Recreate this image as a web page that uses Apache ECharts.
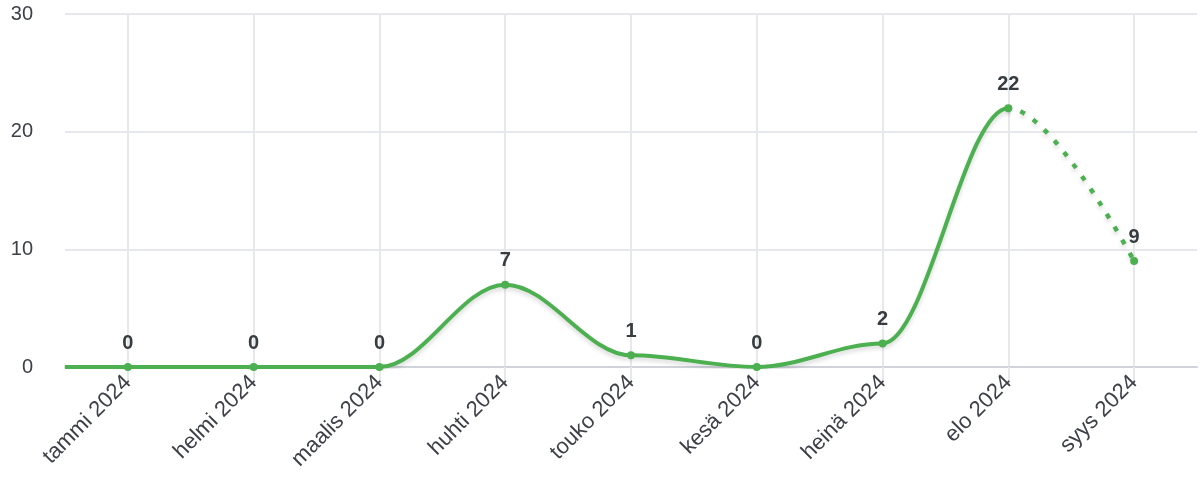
<!DOCTYPE html>
<html>
<head>
<meta charset="utf-8">
<script src="https://cdn.jsdelivr.net/npm/echarts@6/dist/echarts.min.js"></script>
<style>
  html, body { margin: 0; padding: 0; background: #fff; }
  #main { width: 1200px; height: 487px; }
</style>
</head>
<body>
<div id="main"></div>
<script>
// kuukaudet ja arvot
var months = ['tammi 2024', 'helmi 2024', 'maalis 2024', 'huhti 2024', 'touko 2024',
  'kesä 2024', 'heinä 2024', 'elo 2024', 'syys 2024'];
var values = [0, 0, 0, 7, 1, 0, 2, 22, 9];
var lastActual = 7; // elo 2024 -> syys on ennuste (pisteviiva)
var yTicks = { min: 0, max: 30, interval: 10 };

var green = '#4CAF50';
var textColor = '#373d3f';
var gridColor = '#e6e8ec';

// pisteet arvoakselille [indeksi, arvo]
var points = values.map(function (v, i) { return [i, v]; });
var leadIn = [[-0.5, 0], [0, 0]];

var W = 1200, left = 65, right = 3;
var step = (W - left - right) / months.length;
var splitX = left + (lastActual + 0.5) * step;

var lineShadow = { shadowColor: 'rgba(0,0,0,0.15)', shadowBlur: 4, shadowOffsetY: 3 };
var smooth = 0.35;

var chart = echarts.init(document.getElementById('main'));
var option = {
  animation: false,
  textStyle: { fontFamily: 'Liberation Sans, Arial, sans-serif' },
  grid: [
    { left: left, right: right, top: 14, bottom: 120 },
    { left: left, right: W - splitX, top: 14, bottom: 120 },
    { left: splitX, right: right, top: 14, bottom: 120 }
  ],
  xAxis: [
    {
      type: 'category',
      gridIndex: 0,
      data: months,
      boundaryGap: true,
      axisLine: { lineStyle: { color: '#d0d3da', width: 2 } },
      axisTick: { show: true, alignWithLabel: true, length: 18, lineStyle: { color: gridColor, width: 2 } },
      splitLine: { show: true, alignWithLabel: true, lineStyle: { color: gridColor, width: 2 } },
      axisLabel: { rotate: 45, color: '#3d4047', fontSize: 22, margin: 12, interval: 0 }
    },
    { type: 'value', gridIndex: 0, min: -0.5, max: months.length - 0.5, show: false },
    { type: 'value', gridIndex: 1, min: -0.5, max: lastActual, show: false },
    { type: 'value', gridIndex: 2, min: lastActual, max: months.length - 0.5, show: false }
  ],
  yAxis: [
    {
      type: 'value',
      gridIndex: 0,
      min: yTicks.min, max: yTicks.max, interval: yTicks.interval,
      axisLine: { show: false },
      axisTick: { show: false },
      splitLine: { lineStyle: { color: gridColor, width: 2 } },
      axisLabel: { color: '#3d4047', fontSize: 20, margin: 32 }
    },
    { type: 'value', gridIndex: 1, min: yTicks.min, max: yTicks.max, show: false },
    { type: 'value', gridIndex: 2, min: yTicks.min, max: yTicks.max, show: false }
  ],
  series: [
    {
      // viiva alkaa akselin reunasta
      type: 'line',
      xAxisIndex: 1, yAxisIndex: 0,
      data: leadIn,
      symbol: 'none',
      lineStyle: { color: green, width: 4 },
      z: 2
    },
    {
      // toteutunut, yhtenäinen viiva
      type: 'line',
      xAxisIndex: 2, yAxisIndex: 1,
      data: points,
      smooth: smooth,
      smoothMonotone: 'x',
      symbol: 'none',
      clip: true,
      lineStyle: Object.assign({ color: green, width: 4 }, lineShadow),
      z: 3
    },
    {
      // ennuste, pisteviiva
      type: 'line',
      xAxisIndex: 3, yAxisIndex: 2,
      data: points,
      smooth: smooth,
      smoothMonotone: 'x',
      symbol: 'none',
      clip: true,
      lineStyle: Object.assign({ color: green, width: 4.5, type: [5, 10] }, lineShadow),
      z: 3
    },
    {
      // pisteet ja arvot
      type: 'line',
      xAxisIndex: 0, yAxisIndex: 0,
      data: values,
      symbol: 'circle',
      symbolSize: 8,
      itemStyle: { color: green },
      lineStyle: { width: 0, opacity: 0 },
      label: {
        show: true, position: 'top', distance: 10,
        color: textColor, fontSize: 20, fontWeight: 'bold'
      },
      z: 4
    }
  ]
};
chart.setOption(option);
</script>
</body>
</html>
